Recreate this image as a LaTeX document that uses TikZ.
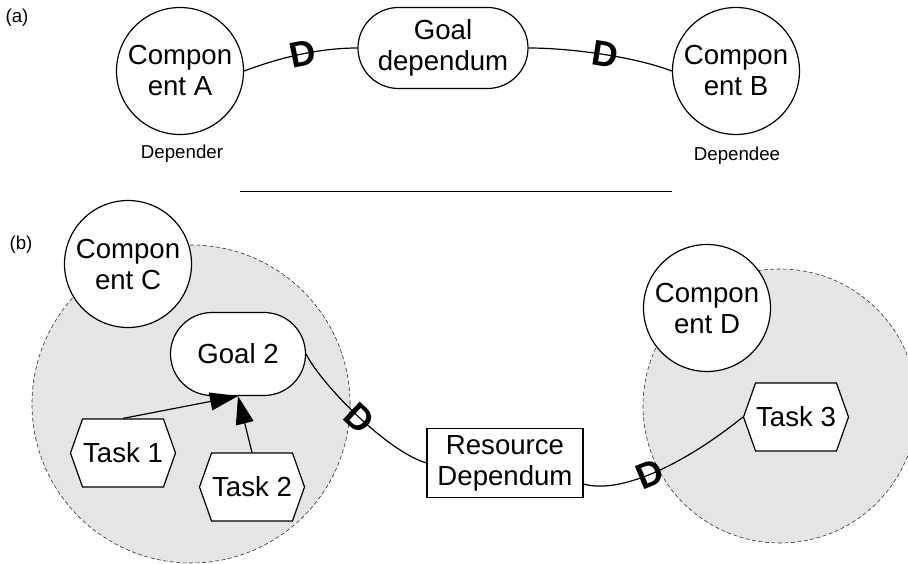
\documentclass[tikz,border=0pt]{standalone}
\usepackage{fontspec}
\setmainfont{Liberation Sans}
\usetikzlibrary{arrows.meta, shapes.misc, shapes.symbols, positioning}

\definecolor{bubblegray}{gray}{0.9}

\begin{document}
\begin{tikzpicture}[x=1pt, y=-1pt, line width=1.2pt,
		every node/.style={font=\fontsize{27.6}{31}\selectfont, inner sep=0pt, align=center},
		comp/.style={circle, draw, fill=white, minimum size=127pt},
		goal/.style={rounded rectangle, draw, fill=white},
		task/.style={signal, signal to=west and east, signal pointer angle=141, draw, fill=white, minimum width=105pt, minimum height=68pt},
		res/.style={rectangle, draw, fill=white, minimum width=156pt, minimum height=69pt},
		bound/.style={circle, draw=black!80, fill=bubblegray, line width=0.6pt, dash pattern=on 4pt off 2.5pt},
		small/.style={font=\fontsize{18.7}{22}\selectfont},
		dmark/.style={font=\fontsize{36}{36}\bfseries\selectfont, sloped},
		isa/.style={-{Triangle[length=28pt, width=18pt]}}]
		\useasboundingbox (0,0) rectangle (908,564);
		\clip (0,0) rectangle (908,564);

		% (a) Goal dependency
		\node[small] (lblA) at (17,18) {(a)};
		\node[comp] (compA) at (180,71) {Compon\\ent A};
		\node[comp] (compB) at (736,71) {Compon\\ent B};
		\node[goal, minimum width=170pt, minimum height=81pt] (goalDep) at (443,48) {Goal\\dependum};
		\node[small, anchor=base] (lblDepender) at (182,159) {Depender};
		\node[small, anchor=base] (lblDependee) at (737,161) {Dependee};

		\draw (compA.east) .. controls +(40,-15) and +(-35,0) .. (goalDep.west) node[dmark, pos=0.5] (dmA) {D};
		\draw (goalDep.east) .. controls +(40,0) and +(-40,-15) .. (compB.west) node[dmark, pos=0.53] (dmB) {D};

		% Separator
		\coordinate (sepL) at (240,192);
		\coordinate (sepR) at (672,192);
		\draw[line width=1pt] (sepL) -- (sepR);

		% (b) Resource dependency
		\node[small] (lblB) at (21,245) {(b)};
		\node[bound, minimum size=318pt] (bndC) at (191,404) {};
		\node[bound, minimum size=274pt] (bndD) at (780,406) {};
		\node[comp] (compC) at (128,264) {Compon\\ent C};
		\node[comp] (compD) at (707,308) {Compon\\ent D};

		\node[goal, minimum width=135pt, minimum height=83pt] (goal2) at (238,354) {Goal 2};
		\node[task] (task1) at (123,453) {Task 1};
		\node[task] (task2) at (252,487) {Task 2};
		\node[task] (task3) at (796,417) {Task 3};
		\node[res] (resDep) at (505,463) {Resource\\Dependum};

		\draw[isa] (task1.north) -- (goal2.south);
		\draw[isa] (task2.north) -- (goal2.south);

		\draw (goal2.east) .. controls +(15,30) and +(-40,-12) .. (resDep.west) node[dmark, pos=0.52] (dmC) {D};
		\draw (resDep.-15) .. controls +(40,11) and +(-53,43) .. (task3.west) node[dmark, pos=0.45] (dmD) {D};
	\end{tikzpicture}
\end{document}
